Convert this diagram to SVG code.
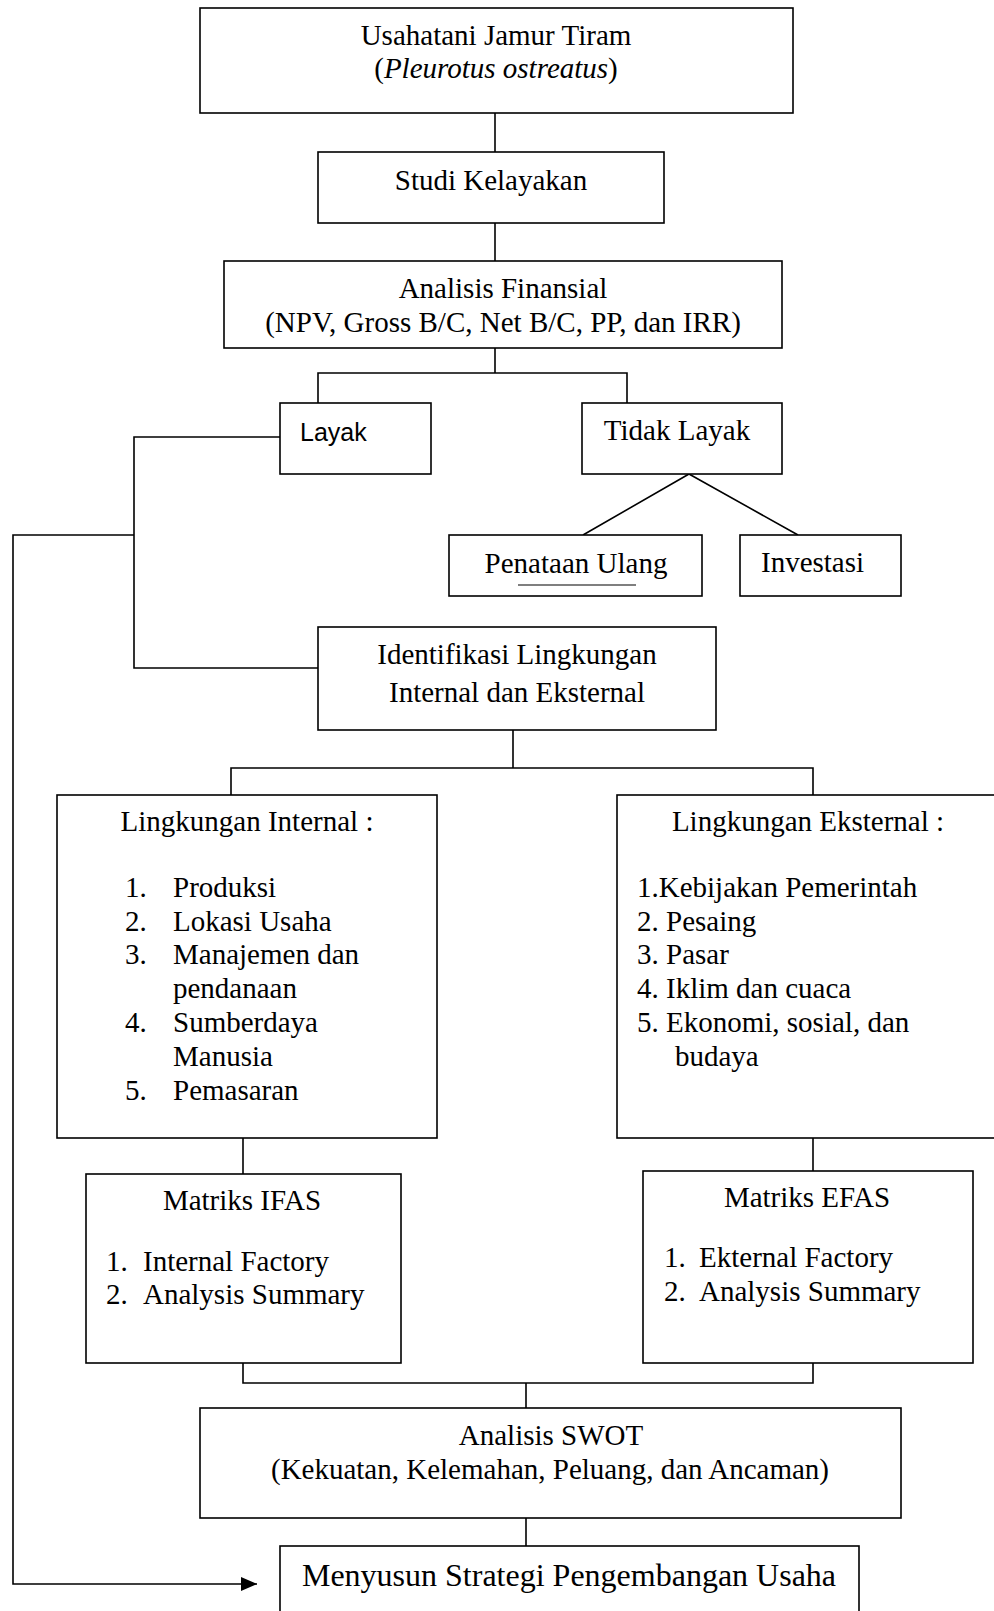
<svg xmlns="http://www.w3.org/2000/svg" width="994" height="1611" viewBox="0 0 994 1611">
<style>
.b{fill:#fff;stroke:#000;stroke-width:1.6}
.c{fill:none;stroke:#000;stroke-width:1.6}
.t{font-family:"Liberation Serif","Times New Roman",serif;font-size:29px;fill:#000}
.m{text-anchor:middle}
.s{font-family:"Liberation Sans",Arial,sans-serif;font-size:25px;fill:#000}
</style>
<defs>
<marker id="ah" viewBox="0 0 16 14" refX="16" refY="7" markerWidth="16" markerHeight="14" markerUnits="userSpaceOnUse" orient="auto">
<path d="M0,0 L16,7 L0,14 z" fill="#000"/>
</marker>
</defs>
<rect width="994" height="1611" fill="#fff"/>
<g id="connectors">
<path class="c" d="M495,113 V152"/>
<path class="c" d="M495,223 V261"/>
<path class="c" d="M495,348 V373 M318,403 V373 H627 V403"/>
<path class="c" d="M689,474 L583,535 M689,474 L798,535"/>
<path class="c" d="M280,437 H134 V668 H318"/>
<path class="c" d="M134,535 H13 V1584 H257" marker-end="url(#ah)"/>
<path class="c" d="M513,730 V768 M231,795 V768 H813 V795"/>
<path class="c" d="M243,1138 V1174"/>
<path class="c" d="M813,1138 V1171"/>
<path class="c" d="M243,1363 V1383 H813 V1363 M526,1383 V1408"/>
<path class="c" d="M526,1518 V1546"/>
</g>
<g id="n_usahatani">
<rect class="b" x="200" y="8" width="593" height="105"/>
<text class="t m" x="496" y="45">Usahatani Jamur Tiram</text>
<text class="t m" x="496" y="78">(<tspan font-style="italic">Pleurotus ostreatus</tspan>)</text>
</g>
<g id="n_studi">
<rect class="b" x="318" y="152" width="346" height="71"/>
<text class="t m" x="491" y="190">Studi Kelayakan</text>
</g>
<g id="n_finansial">
<rect class="b" x="224" y="261" width="558" height="87"/>
<text class="t m" x="503" y="298">Analisis Finansial</text>
<text class="t m" x="503" y="332">(NPV, Gross B/C, Net B/C, PP, dan IRR)</text>
</g>
<g id="n_layak">
<rect class="b" x="280" y="403" width="151" height="71"/>
<text class="s" x="300" y="441">Layak</text>
</g>
<g id="n_tidaklayak">
<rect class="b" x="582" y="403" width="200" height="71"/>
<text class="t m" x="677" y="440">Tidak Layak</text>
</g>
<g id="n_penataan">
<rect class="b" x="449" y="535" width="253" height="61"/>
<text class="t m" x="576" y="573">Penataan Ulang</text>
<line x1="518" y1="585" x2="636" y2="585" stroke="#000" stroke-width="1.2"/>
</g>
<g id="n_investasi">
<rect class="b" x="740" y="535" width="161" height="61"/>
<text class="t" x="761" y="572">Investasi</text>
</g>
<g id="n_identifikasi">
<rect class="b" x="318" y="627" width="398" height="103"/>
<text class="t m" x="517" y="664">Identifikasi Lingkungan</text>
<text class="t m" x="517" y="702">Internal dan Eksternal</text>
</g>
<g id="n_internal">
<rect class="b" x="57" y="795" width="380" height="343"/>
<text class="t m" x="247" y="831">Lingkungan Internal :</text>
<text class="t" x="125" y="897">1.</text><text class="t" x="173" y="897">Produksi</text>
<text class="t" x="125" y="931">2.</text><text class="t" x="173" y="931">Lokasi Usaha</text>
<text class="t" x="125" y="964">3.</text><text class="t" x="173" y="964">Manajemen dan</text>
<text class="t" x="173" y="998">pendanaan</text>
<text class="t" x="125" y="1032">4.</text><text class="t" x="173" y="1032">Sumberdaya</text>
<text class="t" x="173" y="1066">Manusia</text>
<text class="t" x="125" y="1100">5.</text><text class="t" x="173" y="1100">Pemasaran</text>
</g>
<g id="n_eksternal">
<rect class="b" x="617" y="795" width="400" height="343"/>
<text class="t m" x="808" y="831">Lingkungan Eksternal :</text>
<text class="t" x="637" y="897">1.Kebijakan Pemerintah</text>
<text class="t" x="637" y="931">2. Pesaing</text>
<text class="t" x="637" y="964">3. Pasar</text>
<text class="t" x="637" y="998">4. Iklim dan cuaca</text>
<text class="t" x="637" y="1032">5. Ekonomi, sosial, dan</text>
<text class="t" x="675" y="1066">budaya</text>
</g>
<g id="n_ifas">
<rect class="b" x="86" y="1174" width="315" height="189"/>
<text class="t m" x="242" y="1210">Matriks IFAS</text>
<text class="t" x="106" y="1271">1.</text><text class="t" x="143" y="1271">Internal Factory</text>
<text class="t" x="106" y="1304">2.</text><text class="t" x="143" y="1304">Analysis Summary</text>
</g>
<g id="n_efas">
<rect class="b" x="643" y="1171" width="330" height="192"/>
<text class="t m" x="807" y="1207">Matriks EFAS</text>
<text class="t" x="664" y="1267">1.</text><text class="t" x="699" y="1267">Ekternal Factory</text>
<text class="t" x="664" y="1301">2.</text><text class="t" x="699" y="1301">Analysis Summary</text>
</g>
<g id="n_swot">
<rect class="b" x="200" y="1408" width="701" height="110"/>
<text class="t m" x="551" y="1445">Analisis SWOT</text>
<text class="t m" x="550" y="1479">(Kekuatan, Kelemahan, Peluang, dan Ancaman)</text>
</g>
<g id="n_strategi">
<rect class="b" x="280" y="1546" width="579" height="80"/>
<text class="t m" x="569" y="1586" style="font-size:32px">Menyusun Strategi Pengembangan Usaha</text>
</g>
</svg>
